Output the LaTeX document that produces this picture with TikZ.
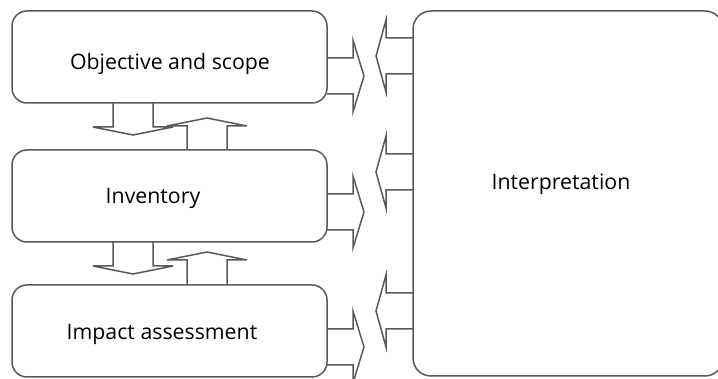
\documentclass[tikz,border=0pt]{standalone}
\usepackage{fontspec}
\setmainfont{Open Sans}
\begin{document}
\begin{tikzpicture}[x=1pt,y=-1pt,
  ln/.style={draw=black!65,line width=1.5pt},
  boxs/.style={ln,rounded corners=15pt},
  arr/.style={ln,fill=white,line join=miter},
  lbl/.style={font=\fontsize{21.3}{25}\selectfont,text=black,anchor=base,inner sep=0pt},
  rarrow/.pic={\draw[arr] (0,-18) -- (26,-18) -- (26,-36) -- (37,0) -- (26,36) -- (26,18) -- (0,18);},
  larrow/.pic={\draw[arr] (0,-18) -- (-27,-18) -- (-27,-36) -- (-37,0) -- (-27,36) -- (-27,18) -- (0,18);},
  darrow/.pic={\draw[arr] (-20,0) -- (-20,24) -- (-40,24) -- (0,32) -- (40,24) -- (20,24) -- (20,0);},
  uarrow/.pic={\draw[arr] (-20,0) -- (-20,-24) -- (-40,-24) -- (0,-32) -- (40,-24) -- (20,-24) -- (20,0);}
]
\useasboundingbox (0,0) rectangle (718,379);
\clip (0,0) rectangle (718,379);
% arrows
\pic at (327,76) {rarrow};
\pic at (327,212) {rarrow};
\pic at (327,347) {rarrow};
\pic at (413,56) {larrow};
\pic at (413,172) {larrow};
\pic at (413,311) {larrow};
\pic at (133,103) {darrow};
\pic at (207,150) {uarrow};
\pic at (133,242) {darrow};
\pic at (207,284) {uarrow};
% boxes
\node[boxs,minimum width=315pt,minimum height=92pt,inner sep=0pt] (obj) at (169.5,57) {};
\node[boxs,minimum width=315pt,minimum height=92pt,inner sep=0pt] (inv) at (169.5,196) {};
\node[boxs,minimum width=315pt,minimum height=92pt,inner sep=0pt] (imp) at (169.5,331) {};
\node[boxs,rounded corners=18pt,minimum width=310pt,minimum height=365pt,inner sep=0pt] (int) at (568,193.5) {};
% labels
\node[lbl] (tobj) at (170,70) {Objective and scope};
\node[lbl] (tinv) at (153,204) {Inventory};
\node[lbl] (timp) at (162,340) {Impact assessment};
\node[lbl] (tint) at (561,190) {Interpretation};
\end{tikzpicture}
\end{document}
